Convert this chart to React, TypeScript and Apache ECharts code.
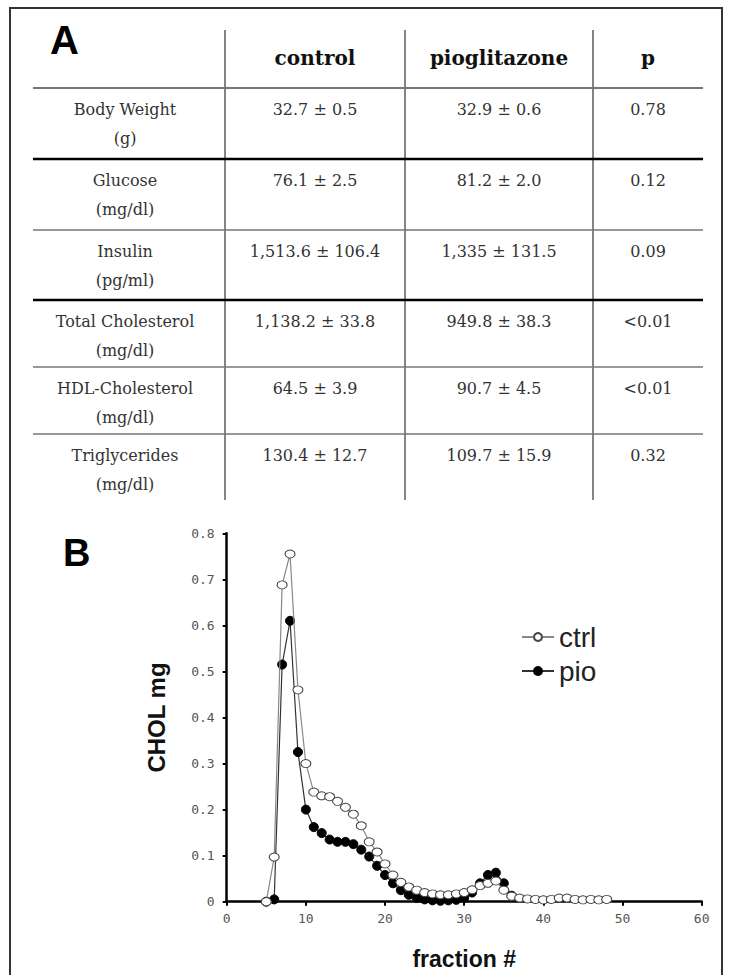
import React, { useEffect, useRef } from "react";
import * as echarts from "echarts";

// ---- Table (panel A) ----
const tableHeaders = ["control", "pioglitazone", "p"];
const rowLabels = ["Body Weight", "Glucose", "Insulin", "Total Cholesterol", "HDL-Cholesterol", "Triglycerides"];
const rowUnits = ["(g)", "(mg/dl)", "(pg/ml)", "(mg/dl)", "(mg/dl)", "(mg/dl)"];
const controlValues = ["32.7 ± 0.5", "76.1 ± 2.5", "1,513.6 ± 106.4", "1,138.2 ± 33.8", "64.5 ± 3.9", "130.4 ± 12.7"];
const pioValues = ["32.9 ± 0.6", "81.2 ± 2.0", "1,335 ± 131.5", "949.8 ± 38.3", "90.7 ± 4.5", "109.7 ± 15.9"];
const pValues = ["0.78", "0.12", "0.09", "<0.01", "<0.01", "0.32"];

// ---- Chart (panel B) ----
const ctrlFractions = [5, 6, 7, 8, 9, 10, 11, 12, 13, 14, 15, 16, 17, 18, 19, 20, 21, 22, 23, 24, 25, 26, 27, 28, 29, 30, 31, 32, 33, 34, 35, 36, 37, 38, 39, 40, 41, 42, 43, 44, 45, 46, 47, 48];
const ctrlChol = [0, 0.097, 0.688, 0.755, 0.46, 0.3, 0.238, 0.23, 0.228, 0.218, 0.205, 0.19, 0.165, 0.13, 0.108, 0.082, 0.058, 0.042, 0.032, 0.025, 0.02, 0.017, 0.015, 0.015, 0.017, 0.02, 0.026, 0.035, 0.04, 0.045, 0.025, 0.012, 0.008, 0.006, 0.005, 0.004, 0.005, 0.008, 0.008, 0.005, 0.004, 0.005, 0.004, 0.005];
const pioFractions = [5, 6, 7, 8, 9, 10, 11, 12, 13, 14, 15, 16, 17, 18, 19, 20, 21, 22, 23, 24, 25, 26, 27, 28, 29, 30, 31, 32, 33, 34, 35, 36];
const pioChol = [0, 0.005, 0.515, 0.61, 0.325, 0.2, 0.162, 0.149, 0.135, 0.13, 0.13, 0.125, 0.113, 0.098, 0.078, 0.058, 0.04, 0.025, 0.015, 0.008, 0.005, 0.003, 0.002, 0.003, 0.004, 0.008, 0.02, 0.04, 0.058, 0.063, 0.04, 0.013];
const seriesNames = ["ctrl", "pio"];

// layout constants
const colSeps = [225, 405, 593];
const tableLeft = 33;
const tableRight = 703;
const headerLineY = 88;
const rowLineYs = [159, 230, 300, 367, 434, 500];
const rowLineStyles = [
  { stroke: "#000", lineWidth: 2.5 },
  { stroke: "#777", lineWidth: 1.5 },
  { stroke: "#000", lineWidth: 2.5 },
  { stroke: "#777", lineWidth: 1.5 },
  { stroke: "#777", lineWidth: 1.5 },
];

function buildTableGraphics() {
  const g: any[] = [];
  const serif = "'DejaVu Serif', 'Liberation Serif', serif";
  colSeps.forEach((x) => {
    g.push({ type: "line", shape: { x1: x, y1: 30, x2: x, y2: 500 }, style: { stroke: "#333", lineWidth: 1.2 } });
  });
  g.push({ type: "line", shape: { x1: tableLeft, y1: headerLineY, x2: tableRight, y2: headerLineY }, style: { stroke: "#777", lineWidth: 2 } });
  rowLineStyles.forEach((s, i) => {
    const y = rowLineYs[i];
    g.push({ type: "line", shape: { x1: tableLeft, y1: y, x2: tableRight, y2: y }, style: s });
  });
  const colCenters = [
    (tableLeft + colSeps[0]) / 2 - 4,
    (colSeps[0] + colSeps[1]) / 2,
    (colSeps[1] + colSeps[2]) / 2,
    (colSeps[2] + tableRight) / 2,
  ];
  tableHeaders.forEach((h, i) => {
    g.push({
      type: "text",
      x: colCenters[i + 1],
      y: 58,
      style: { text: h, font: `bold 20px ${serif}`, fill: "#111", align: "center", verticalAlign: "middle" },
    });
  });
  const rowTops = [headerLineY, ...rowLineYs.slice(0, 5)];
  rowLabels.forEach((label, r) => {
    const top = rowTops[r];
    const y1 = top + 21;
    const y2 = top + 50;
    const f = `16px ${serif}`;
    const c = "#333";
    g.push({ type: "text", x: colCenters[0], y: y1, style: { text: label, font: f, fill: c, align: "center", verticalAlign: "middle" } });
    g.push({ type: "text", x: colCenters[0], y: y2, style: { text: rowUnits[r], font: f, fill: c, align: "center", verticalAlign: "middle" } });
    g.push({ type: "text", x: colCenters[1], y: y1, style: { text: controlValues[r], font: f, fill: c, align: "center", verticalAlign: "middle" } });
    g.push({ type: "text", x: colCenters[2], y: y1, style: { text: pioValues[r], font: f, fill: c, align: "center", verticalAlign: "middle" } });
    g.push({ type: "text", x: colCenters[3], y: y1, style: { text: pValues[r], font: f, fill: c, align: "center", verticalAlign: "middle" } });
  });
  g.push({ type: "text", x: 50, y: 40, style: { text: "A", font: "bold 40px 'Liberation Sans', Arial, sans-serif", fill: "#000", align: "left", verticalAlign: "middle" } });
  g.push({ type: "text", x: 63, y: 553, style: { text: "B", font: "bold 38px 'Liberation Sans', Arial, sans-serif", fill: "#000", align: "left", verticalAlign: "middle" } });
  g.push({ type: "rect", shape: { x: 10, y: 8, width: 712, height: 1000 }, style: { fill: "none", stroke: "#333", lineWidth: 2 } });
  return g;
}

export default function App() {
  const ref = useRef<HTMLDivElement>(null);
  useEffect(() => {
    if (!ref.current) return;
    const chart = echarts.init(ref.current, undefined, { renderer: "svg" });
    const mono = "'DejaVu Sans Mono', monospace";
    const sans = "'Liberation Sans', Arial, sans-serif";
    chart.setOption({
      animation: false,
      backgroundColor: "#fff",
      graphic: buildTableGraphics(),
      legend: {
        orient: "vertical",
        left: 516,
        top: 618,
        itemWidth: 32,
        itemHeight: 10,
        itemGap: 6,
        data: seriesNames,
        textStyle: { fontSize: 28, fontFamily: sans, color: "#222" },
      },
      grid: { left: 226.7, right: 28.3, top: 533.3, bottom: 73.3, containLabel: false },
      xAxis: {
        type: "value",
        min: 0,
        max: 60,
        interval: 10,
        name: "fraction #",
        nameLocation: "middle",
        nameGap: 46,
        nameTextStyle: { fontSize: 23, fontWeight: "bold", fontFamily: sans, color: "#111" },
        axisLine: { lineStyle: { color: "#000", width: 2.5 } },
        axisTick: { show: true, inside: false, length: 4, lineStyle: { color: "#000", width: 2 } },
        axisLabel: { fontSize: 13, fontFamily: mono, color: "#555", margin: 10 },
        splitLine: { show: false },
      },
      yAxis: {
        type: "value",
        min: 0,
        max: 0.8,
        interval: 0.1,
        name: "CHOL mg",
        nameLocation: "middle",
        nameRotate: 90,
        nameGap: 58,
        nameTextStyle: { fontSize: 24, fontWeight: "bold", fontFamily: sans, color: "#111" },
        axisLine: { lineStyle: { color: "#000", width: 2.5 } },
        axisTick: { show: true, inside: false, length: 4, lineStyle: { color: "#000", width: 2 } },
        axisLabel: { fontSize: 13, fontFamily: mono, color: "#555", margin: 12, formatter: (v: number) => (v === 0 ? "0" : v.toFixed(1)) },
        splitLine: { show: false },
      },
      series: [
        {
          name: "pio",
          type: "line",
          data: pioFractions.map((f, i) => [f, pioChol[i]]),
          symbol: "circle",
          symbolSize: 9,
          itemStyle: { color: "#000", borderColor: "#000", borderWidth: 1 },
          lineStyle: { color: "#333", width: 1.2 },
          z: 2,
        },
        {
          name: "ctrl",
          type: "line",
          data: ctrlFractions.map((f, i) => [f, ctrlChol[i]]),
          symbol: "circle",
          symbolSize: [10, 8],
          itemStyle: { color: "#fff", borderColor: "#444", borderWidth: 1 },
          lineStyle: { color: "#888", width: 1.2 },
          z: 3,
        },
      ],
    });
    return () => chart.dispose();
  }, []);
  return <div ref={ref} style={{ position: "absolute", left: 0, top: 0, width: 730, height: 975 }} />;
}
